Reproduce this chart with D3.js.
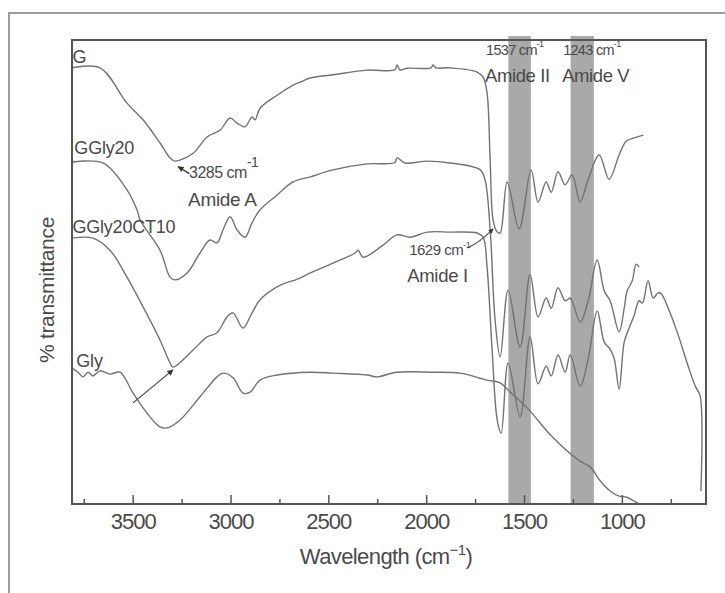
<!DOCTYPE html>
<html><head><meta charset="utf-8">
<script src="https://cdn.jsdelivr.net/npm/d3@7"></script>
<style>body{margin:0;background:#fff}</style>
</head><body>
<svg id="chart" width="725" height="593"></svg>
<script>
// ---- data: [wavenumber cm^-1, % transmittance (arbitrary offset scale)] ----
const seriesG = [[3810,94.0],[3667,94.0],[3529,86.4],[3447,82.8],[3360,77.8],[3309,74.6],[3283,73.9],[3191,75.6],[3120,79.1],[3053,80.6],[3002,83.2],[2967,82.1],[2926,81.3],[2890,83.4],[2874,82.8],[2849,85.3],[2762,88.1],[2680,90.3],[2644,90.9],[2593,91.8],[2476,92.5],[2302,93.5],[2160,93.6],[2149,94.6],[2133,93.5],[2100,93.9],[1975,94.0],[1965,94.6],[1950,94.0],[1878,94.0],[1740,93.1],[1709,92.0],[1689,88.6],[1673,74.1],[1658,61.2],[1637,58.6],[1622,58.4],[1586,69.4],[1525,59.3],[1464,72.0],[1428,65.1],[1387,69.4],[1361,67.2],[1326,71.6],[1290,68.8],[1254,70.9],[1213,65.1],[1172,70.0],[1116,75.2],[1065,70.0],[1014,75.2],[978,78.2],[937,78.9],[890,79.5]];
const seriesGGly20 = [[3810,73.7],[3652,73.5],[3529,67.7],[3478,63.4],[3462,61.2],[3360,54.7],[3309,48.9],[3283,48.3],[3222,49.8],[3156,54.1],[3105,56.9],[3069,56.3],[3038,59.1],[3002,61.9],[2967,59.1],[2926,57.5],[2890,60.6],[2849,63.4],[2762,66.6],[2680,69.4],[2593,70.5],[2476,72.0],[2302,73.3],[2160,73.6],[2149,74.6],[2108,73.5],[1995,73.9],[1878,73.5],[1724,72.0],[1699,69.8],[1673,59.1],[1648,39.7],[1622,31.7],[1581,46.1],[1520,33.8],[1469,49.4],[1428,40.3],[1387,44.4],[1361,42.2],[1326,46.6],[1290,43.8],[1264,44.4],[1213,39.2],[1172,43.8],[1126,52.6],[1090,45.9],[1060,43.8],[1014,37.1],[988,42.2],[973,45.9],[947,48.1],[927,51.7],[912,51.1]];
const seriesGGly20CT10 = [[3810,57.3],[3703,57.3],[3616,54.7],[3529,48.9],[3447,42.5],[3360,35.3],[3309,30.4],[3294,29.5],[3191,33.2],[3120,36.0],[3069,36.9],[3018,40.3],[2987,41.2],[2936,37.9],[2890,41.2],[2849,44.0],[2762,46.8],[2644,48.7],[2593,49.8],[2476,51.9],[2363,54.1],[2348,54.7],[2322,53.2],[2220,55.8],[2149,58.0],[2082,57.5],[1995,58.6],[1878,58.6],[1740,58.4],[1709,57.5],[1689,51.1],[1663,33.2],[1637,18.1],[1617,15.3],[1581,30.4],[1520,18.8],[1469,36.0],[1428,25.9],[1387,29.7],[1361,27.6],[1326,32.1],[1290,28.4],[1264,32.1],[1213,25.4],[1172,31.3],[1126,41.6],[1090,34.9],[1060,33.4],[1039,31.3],[1014,24.8],[988,34.9],[963,37.9],[937,40.7],[912,43.8],[895,43.3],[866,48.1],[840,44.4],[815,45.5],[799,45.3],[763,42.2],[712,36.4],[661,29.7],[625,25.4],[600,23.3],[596,2.8]];
const seriesGly = [[3810,29.3],[3779,28.4],[3754,27.4],[3728,28.4],[3703,27.6],[3667,28.7],[3616,28.0],[3565,28.4],[3498,23.9],[3427,19.6],[3360,16.6],[3324,16.4],[3258,18.1],[3156,23.1],[3069,27.4],[3038,28.2],[2987,27.2],[2936,23.9],[2900,24.1],[2849,26.7],[2762,27.8],[2593,28.4],[2476,28.2],[2302,27.8],[2251,27.4],[2149,28.4],[1965,28.4],[1827,28.2],[1689,26.7],[1622,26.1],[1566,23.9],[1479,20.5],[1361,14.7],[1223,9.5],[1162,8.0],[1111,5.0],[1060,2.8],[1014,1.7],[978,1.5],[937,0.6],[901,-0.4],[880,-2]];

const seriesLabels = [
  {text:"G", w:3808, t:95.0},
  {text:"GGly20", w:3798, t:75.4},
  {text:"GGly20CT10", w:3808, t:58.4},
  {text:"Gly", w:3788, t:29.5}
];
const bands = [[1580,1465],[1262,1143]];
const bandLabels = [
  {num:"1537", name:"Amide II", w:1694},
  {num:"1243", name:"Amide V", w:1300}
];
const majorTicks = [3500,3000,2500,2000,1500,1000];
const minorTicks = [3750,3250,2750,2250,1750,1250,750];

// ---- layout ----
const svg = d3.select("#chart");
const L = 72, R = 706, T = 40, B = 504;
const x = d3.scaleLinear().domain([3810, 570]).range([L, R]);
const y = d3.scaleLinear().domain([0, 100]).range([B, T]);
const ink = "#4a4a4a", lineCol = "#727272";
const font = "'Liberation Sans', Arial, Helvetica, sans-serif";

// outer frame
svg.append("path").attr("d", `M9,593 L9,13 L725,13`).attr("fill","none")
  .attr("stroke","#9a9a9a").attr("stroke-width",2);

const defs = svg.append("defs");
defs.append("clipPath").attr("id","clip").append("rect")
  .attr("x",L).attr("y",T).attr("width",R-L).attr("height",B-T);
defs.append("marker").attr("id","arr").attr("viewBox","0 0 10 10")
  .attr("refX",9).attr("refY",5).attr("markerWidth",7).attr("markerHeight",5)
  .attr("orient","auto").attr("markerUnits","userSpaceOnUse")
  .append("path").attr("d","M0,0 L10,5 L0,10 Z").attr("fill","#333");
defs.append("marker").attr("id","arr2").attr("viewBox","0 0 10 10")
  .attr("refX",9).attr("refY",5).attr("markerWidth",9).attr("markerHeight",6)
  .attr("orient","auto").attr("markerUnits","userSpaceOnUse")
  .append("path").attr("d","M0,0 L10,5 L0,10 Z").attr("fill","#333");

// bands
svg.append("g").selectAll("rect").data(bands).join("rect")
  .attr("x", d => x(d[0])).attr("width", d => x(d[1]) - x(d[0]))
  .attr("y", T - 4).attr("height", B - T + 4)
  .attr("fill", "#a9a9a9");

// curves
const line = d3.line().x(d => x(d[0])).y(d => y(d[1])).curve(d3.curveCatmullRom.alpha(0.5));
const g = svg.append("g").attr("clip-path","url(#clip)");
[seriesG, seriesGGly20, seriesGGly20CT10, seriesGly].forEach(s => {
  g.append("path").datum(s).attr("d", line).attr("fill","none")
    .attr("stroke", lineCol).attr("stroke-width", 1.4).attr("stroke-linejoin","round");
});

// axes ticks
const axMaj = d3.axisBottom(x).tickValues(majorTicks).tickFormat(d3.format("d"))
  .tickSizeInner(-9).tickSizeOuter(0).tickPadding(9);
const axMin = d3.axisBottom(x).tickValues(minorTicks).tickSizeInner(-5).tickSizeOuter(0).tickFormat("");
const gMin = svg.append("g").attr("transform",`translate(0,${B})`).call(axMin);
const gMaj = svg.append("g").attr("transform",`translate(0,${B})`).call(axMaj);
[gMin, gMaj].forEach(gg => {
  gg.select(".domain").remove();
  gg.selectAll("line").attr("stroke", "#555").attr("stroke-width", 1.5);
});
gMaj.selectAll("text").attr("font-family", font).attr("font-size", 22)
  .attr("fill", ink).attr("letter-spacing", -1);

// plot frame
svg.append("rect").attr("x",L).attr("y",T).attr("width",R-L).attr("height",B-T)
  .attr("fill","none").attr("stroke","#555").attr("stroke-width",2);

// axis titles
const xt = svg.append("text").attr("x", 386).attr("y", 564).attr("text-anchor","middle")
  .attr("font-family", font).attr("font-size", 22).attr("fill", ink).attr("letter-spacing", -0.6);
xt.append("tspan").text("Wavelength (cm");
xt.append("tspan").attr("dy", -9).attr("font-size", 15).text("\u22121");
xt.append("tspan").attr("dy", 9).text(")");

svg.append("text").attr("transform","translate(54,290) rotate(-90)").attr("text-anchor","middle")
  .attr("font-family", font).attr("font-size", 21).attr("fill", ink).attr("letter-spacing", -0.3)
  .text("% transmittance");

// series labels
svg.append("g").selectAll("text").data(seriesLabels).join("text")
  .attr("x", d => x(d.w)).attr("y", d => y(d.t))
  .attr("font-family", font).attr("font-size", 18).attr("fill", ink).attr("letter-spacing", -0.2)
  .text(d => d.text);

// band labels
bandLabels.forEach(b => {
  const t = svg.append("text").attr("x", x(b.w)).attr("y", y(96.8))
    .attr("font-family", font).attr("font-size", 14.5).attr("fill", ink).attr("letter-spacing", -0.7);
  t.append("tspan").text(b.num + " cm");
  t.append("tspan").attr("dy", -8).attr("font-size", 9).text("-1");
  svg.append("text").attr("x", x(b.w) - 1).attr("y", y(90.9))
    .attr("font-family", font).attr("font-size", 18.5).attr("fill", ink).attr("letter-spacing", -0.4)
    .text(b.name);
});

// Amide A annotation
svg.append("line").attr("x1", x(3210)).attr("y1", y(71.2)).attr("x2", x(3268)).attr("y2", y(72.7))
  .attr("stroke","#333").attr("stroke-width",1.2).attr("marker-end","url(#arr2)");
const tA = svg.append("text").attr("x", x(3212)).attr("y", y(70.3))
  .attr("font-family", font).attr("font-size", 16).attr("fill", ink).attr("letter-spacing", -0.5);
tA.append("tspan").text("3285 cm");
tA.append("tspan").attr("dy", -11).attr("font-size", 14).text("-1");
svg.append("text").attr("x", x(3217)).attr("y", y(64.2))
  .attr("font-family", font).attr("font-size", 19).attr("fill", ink).attr("letter-spacing", -0.3)
  .text("Amide A");

// Gly arrow to GGly20CT10 minimum
svg.append("line").attr("x1", x(3498)).attr("y1", y(21.8)).attr("x2", x(3294)).attr("y2", y(28.9))
  .attr("stroke","#444").attr("stroke-width",1.2).attr("marker-end","url(#arr2)");

// Amide I annotation
svg.append("path").attr("d", `M${x(1790)},${y(55.2)} Q${x(1730)},${y(56.2)} ${x(1658)},${y(59.3)}`)
  .attr("fill","none").attr("stroke","#555").attr("stroke-width",1.1).attr("marker-end","url(#arr)");
const t1 = svg.append("text").attr("x", x(2087)).attr("y", y(53.7))
  .attr("font-family", font).attr("font-size", 15).attr("fill", ink).attr("letter-spacing", -0.5);
t1.append("tspan").text("1629 cm");
t1.append("tspan").attr("dy", -7).attr("font-size", 9).text("-1");
svg.append("text").attr("x", x(2097)).attr("y", y(47.8))
  .attr("font-family", font).attr("font-size", 18.5).attr("fill", ink).attr("letter-spacing", -0.3)
  .text("Amide I");
</script>
</body></html>
